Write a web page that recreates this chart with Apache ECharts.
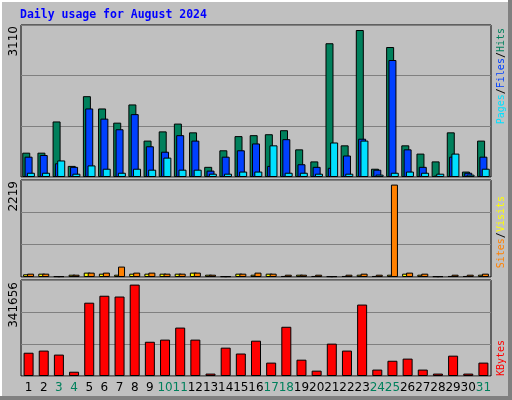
<!DOCTYPE html>
<html><head><meta charset="utf-8">
<script src="https://cdn.jsdelivr.net/npm/echarts@6/dist/echarts.min.js"></script>
<style>html,body{margin:0;padding:0;background:#c0c0c0}#c{width:512px;height:400px}</style>
</head><body><div id="c"></div>
<script>
const days = ['1','2','3','4','5','6','7','8','9','10','11','12','13','14','15','16','17','18','19','20','21','22','23','24','25','26','27','28','29','30','31'];
const weekendDays = ['3','4','10','11','17','18','24','25','31'];
const hits  = [515,515,1175,235,1710,1450,1150,1535,770,965,1130,945,215,565,865,885,905,990,585,330,2830,670,3110,175,2750,670,495,330,945,115,770];
const files = [430,465,290,215,1450,1235,1010,1330,650,535,885,770,135,430,565,710,235,800,270,215,195,455,810,155,2475,585,215,30,430,90,430];
const pages = [90,90,350,70,245,175,90,175,155,410,155,155,70,70,115,115,670,90,90,70,730,70,770,50,90,115,90,70,495,50,175];
const visits = [65,80,20,55,105,80,55,80,80,80,80,105,55,20,80,55,80,25,55,25,20,25,55,25,55,80,55,20,25,25,55];
const sites  = [80,80,20,55,105,105,250,105,105,80,80,105,55,20,80,105,80,55,55,55,20,55,80,55,2219,105,80,20,55,55,80];
const kbytes = [87000,95000,80000,16000,274000,300000,297000,341656,128000,136000,181000,136000,9000,106000,84000,132000,50000,184000,61000,20000,121000,95000,267000,24000,57000,65000,24000,9000,76000,9000,50000];
const maxLabels = ['3110','2219','341656'];

const chart = echarts.init(document.getElementById('c'), null, {renderer:'canvas'});
const green='#00805c', blue='#0040ff', cyan='#00e0ff', yel='#ffff00', org='#ff8000', red='#ff0000';
const gridBase = {left:21, width:470, show:true, backgroundColor:'#c0c0c0', borderColor:'#000', borderWidth:1};
function yAx(idx, max){return {gridIndex:idx, min:0, max:max, interval:max/3, axisLabel:{show:false}, axisTick:{show:false}, axisLine:{show:false}, splitLine:{show:true, lineStyle:{color:'#808080', width:1}}};}
function xAx(idx, show){return {gridIndex:idx, type:'category', data:days, axisTick:{show:false}, axisLine:{show:false},
  axisLabel:{show:show, interval:0, margin:6, fontFamily:'DejaVu Sans', fontSize:12,
    color:(v)=>weekendDays.includes(v)?green:'#000'}};}
function bar(name, data, color, xi, w, gap, z){return {name, type:'bar', xAxisIndex:xi, yAxisIndex:xi, data, barWidth:w, barGap:gap, z:z,
  itemStyle:{color, borderColor:'#000', borderWidth:1}, animation:false};}
chart.setOption({
  animation:false,
  backgroundColor:'#c0c0c0',
  grid:[Object.assign({top:25, height:152}, gridBase), Object.assign({top:180, height:97}, gridBase), Object.assign({top:280, height:96}, gridBase)],
  xAxis:[xAx(0,false), xAx(1,false), xAx(2,true)],
  yAxis:[yAx(0, 3110*152/147), yAx(1, 2219*97/92.4), yAx(2, 341656*96/91.4)],
  series:[
    bar('Hits', hits, green, 0, 8, '-71%', 2),
    bar('Files', files, blue, 0, 8, '-71%', 3),
    bar('Pages', pages, cyan, 0, 8, '-71%', 4),
    bar('Visits', visits, yel, 1, 7, '-43%', 2),
    bar('Sites', sites, org, 1, 7, '-43%', 3),
    bar('KBytes', kbytes, red, 2, 10, '0%', 2)
  ],
  graphic:[
    {type:'rect', shape:{x:0,y:0,width:512,height:2}, style:{fill:'#ffffff'}, silent:true},
    {type:'rect', shape:{x:0,y:0,width:2,height:400}, style:{fill:'#ffffff'}, silent:true},
    {type:'rect', shape:{x:0,y:396,width:512,height:4}, style:{fill:'#808080'}, silent:true},
    {type:'rect', shape:{x:508,y:0,width:4,height:400}, style:{fill:'#808080'}, silent:true},
    {type:'text', x:20, y:15, style:{text:'Daily usage for August 2024', fill:'#0000ff', font:'bold 11.5px "DejaVu Sans Mono"', verticalAlign:'middle', align:'left'}},
    {type:'text', x:14, y:26, rotation:Math.PI/2, style:{text:maxLabels[0], fill:'#000', font:'12px "DejaVu Sans"', align:'right', verticalAlign:'middle'}},
    {type:'text', x:14, y:181, rotation:Math.PI/2, style:{text:maxLabels[1], fill:'#000', font:'12px "DejaVu Sans"', align:'right', verticalAlign:'middle'}},
    {type:'text', x:14, y:282, rotation:Math.PI/2, style:{text:maxLabels[2], fill:'#000', font:'12px "DejaVu Sans"', align:'right', verticalAlign:'middle'}},
    {type:'text', x:501, y:28, rotation:Math.PI/2, style:{text:'{p|Pages}{s|/}{f|Files}{s|/}{h|Hits}', align:'right', verticalAlign:'middle', font:'10px "DejaVu Sans Mono"',
      rich:{p:{fill:cyan,font:'10px "DejaVu Sans Mono"'}, f:{fill:blue,font:'10px "DejaVu Sans Mono"'}, h:{fill:green,font:'10px "DejaVu Sans Mono"'}, s:{fill:'#000',font:'10px "DejaVu Sans Mono"'}}}},
    {type:'text', x:501, y:196, rotation:Math.PI/2, style:{text:'{o|Sites}{s|/}{y|Visits}', align:'right', verticalAlign:'middle', font:'10px "DejaVu Sans Mono"',
      rich:{o:{fill:org,font:'10px "DejaVu Sans Mono"'}, y:{fill:yel,font:'10px "DejaVu Sans Mono"'}, s:{fill:'#000',font:'10px "DejaVu Sans Mono"'}}}},
    {type:'text', x:501, y:340, rotation:Math.PI/2, style:{text:'KBytes', fill:red, align:'right', verticalAlign:'middle', font:'10px "DejaVu Sans Mono"'}}
  ]
});
</script></body></html>
